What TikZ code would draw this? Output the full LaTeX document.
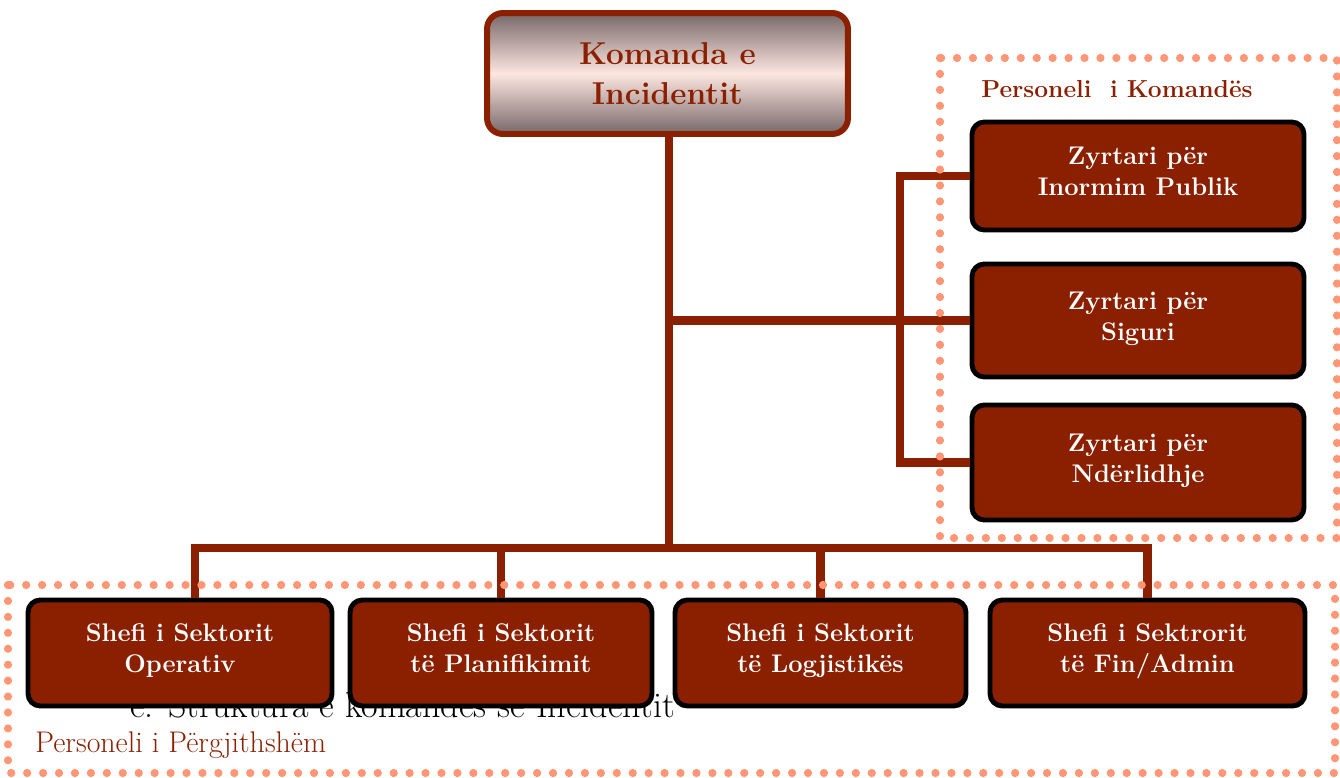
\documentclass[tikz,border=0pt]{standalone}
\usetikzlibrary{positioning}
\definecolor{rust}{RGB}{139,32,0}
\definecolor{dotc}{RGB}{255,150,118}
\definecolor{blush}{RGB}{253,230,224}
\definecolor{dusk}{RGB}{118,104,104}
\begin{document}
\begin{tikzpicture}[x=0.02cm, y=-0.02cm, line join=miter,
  topbox/.style={draw=rust, line width=3.4pt, rounded corners=9pt, top color=dusk, bottom color=dusk, middle color=blush,
    text=rust, font=\fontsize{18}{22.5}\selectfont\bfseries, align=center, minimum width=7.22cm, minimum height=2.42cm, inner sep=0pt},
  unit/.style={draw=black, line width=2.8pt, rounded corners=7pt, fill=rust, text=white,
    font=\fontsize{14.5}{17.5}\selectfont\bfseries, align=center, inner sep=0pt, execute at end node=\strut},
  link/.style={draw=rust, line width=5pt},
  group/.style={draw=dotc, line width=4.7pt, line cap=round, dash pattern=on 0pt off 9.07pt},
  grouplabel/.style={text=rust, anchor=base west, inner sep=0pt}]
\useasboundingbox (0,0) rectangle (1340,778);

\node[anchor=base west, inner sep=0pt, font=\fontsize{20.5}{24}\selectfont] (caption) at (130,717) {e. Struktura e komandës së Incidentit};

\node[topbox] (cmd) at (667.5,73.5) {Komanda e\\Incidentit};

\node[unit, minimum width=6.64cm, minimum height=2.16cm] (pubinfo) at (1138,176) {Zyrtari për\\Inormim Publik};
\node[unit, minimum width=6.64cm, minimum height=2.26cm] (safety) at (1138,320.5) {Zyrtari për\\Siguri};
\node[unit, minimum width=6.64cm, minimum height=2.3cm] (liaison) at (1138,462.5) {Zyrtari për\\Ndërlidhje};

\node[unit, minimum width=6.08cm, minimum height=2.12cm] (ops) at (180,653) {Shefi i Sektorit\\Operativ};
\node[unit, minimum width=6.04cm, minimum height=2.12cm] (plan) at (501,653) {Shefi i Sektorit\\të Planifikimit};
\node[unit, minimum width=5.82cm, minimum height=2.12cm] (logi) at (820.5,653) {Shefi i Sektorit\\të Logjistikës};
\node[unit, minimum width=6.3cm, minimum height=2.12cm] (fin) at (1147.5,653) {Shefi i Sektrorit\\të Fin/Admin};

\coordinate (bus) at (669,548);
\coordinate (brk) at (900,316);
\draw[link] (cmd.south -| bus) -- (bus);
\draw[link] (bus |- safety.west) -- (safety.west);
\draw[link] (pubinfo.west) -| (brk) |- (liaison.west);
\draw[link] (ops.north -| 195,0) |- (bus) -| (fin.north);
\draw[link] (plan.north) -- (plan.north |- bus);
\draw[link] (logi.north) -- (logi.north |- bus);

\draw[group] (940,58) rectangle (1337,538);
\draw[group] (8,585) rectangle (1335,773);

\node[grouplabel, font=\fontsize{14}{17}\selectfont\bfseries] (cmdstaff) at (981,97) {Personeli~~i Komandës};
\node[grouplabel, font=\fontsize{17}{20}\selectfont] (genstaff) at (35,752) {Personeli i Përgjithshëm};
\end{tikzpicture}
\end{document}
